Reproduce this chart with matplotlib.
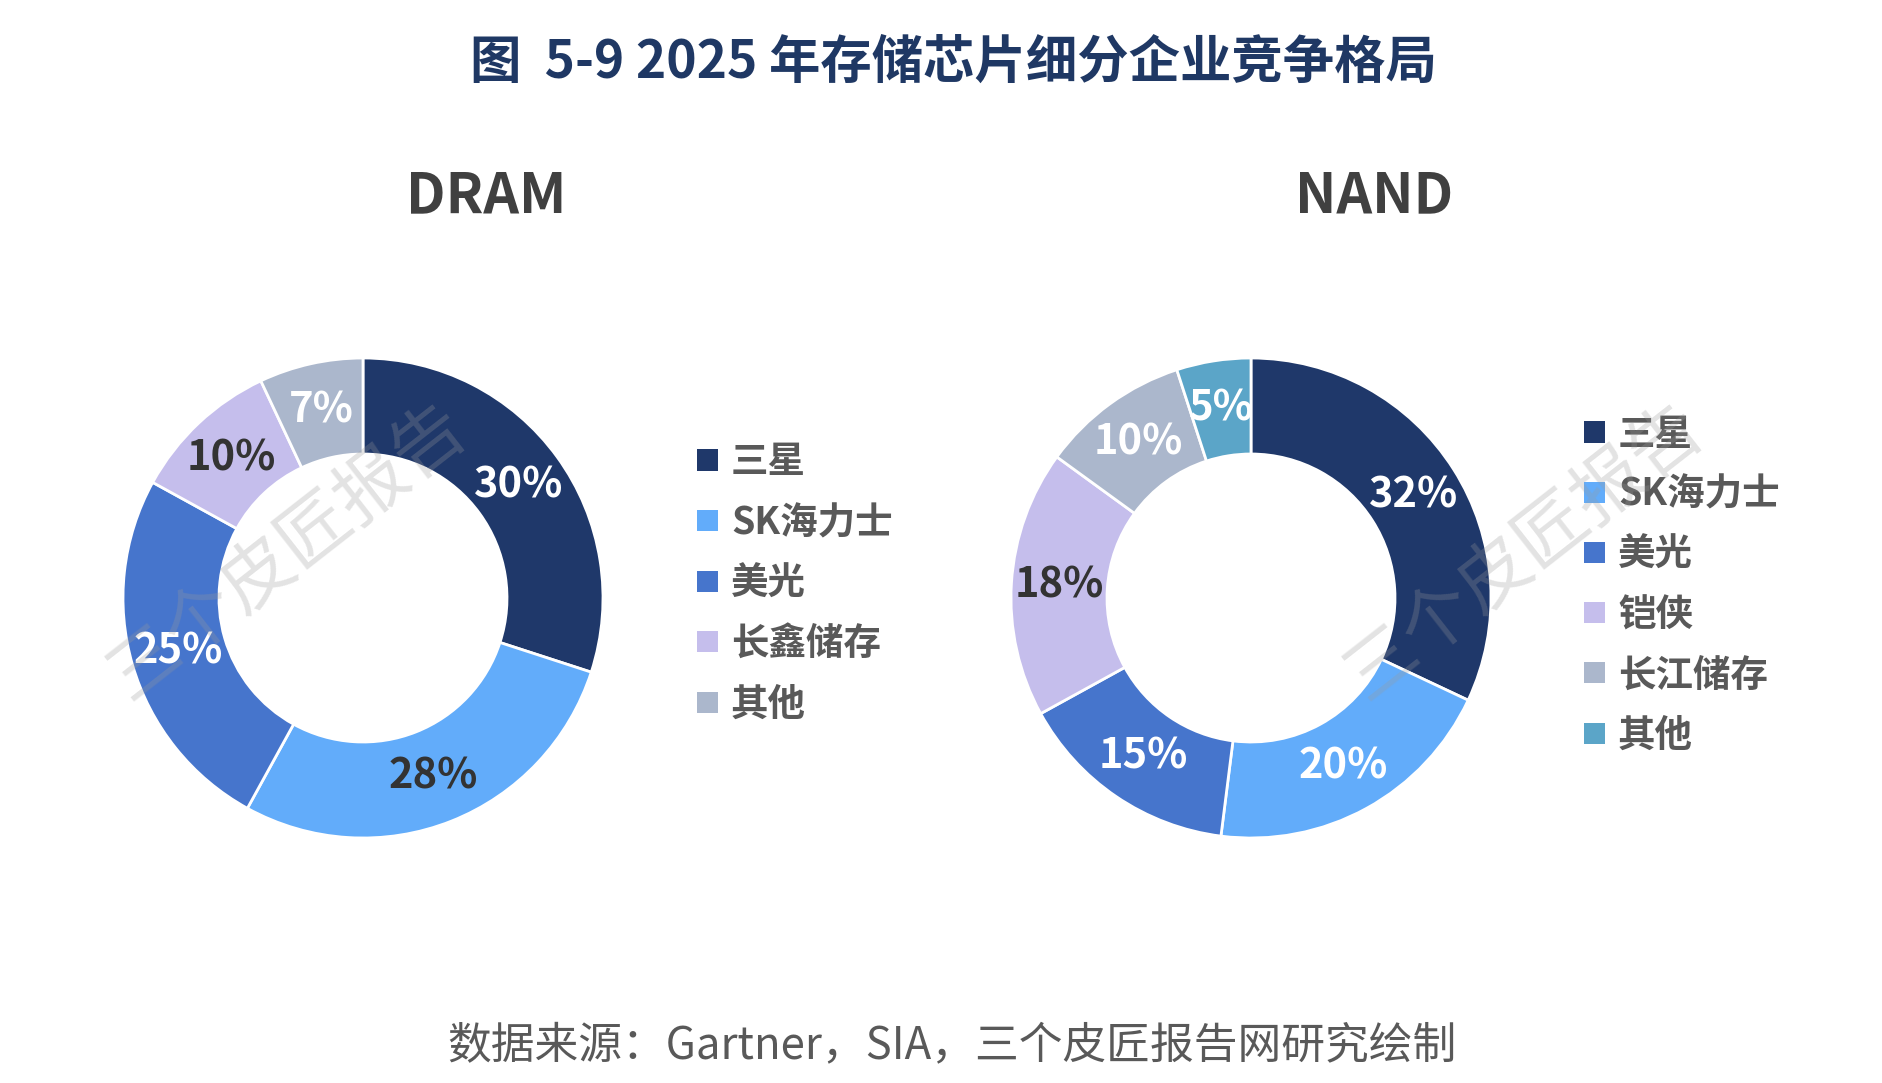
import matplotlib
matplotlib.use('Agg')
import matplotlib.pyplot as plt
from matplotlib.patches import Rectangle

plt.rcParams['font.family'] = ['Noto Sans CJK SC', 'DejaVu Sans']

# ---- data ----
dram_labels = ['三星', 'SK海力士', '美光', '长鑫储存', '其他']
dram_values = [30, 28, 25, 10, 7]
nand_labels = ['三星', 'SK海力士', '美光', '铠侠', '长江储存', '其他']
nand_values = [32, 20, 15, 18, 10, 5]

title = '图  5-9 2025 年存储芯片细分企业竞争格局'
source = '数据来源：Gartner，SIA，三个皮匠报告网研究绘制'
watermark = '三个皮匠报告'

# ---- styles ----
dram_colors = ['#1F386A', '#62ACFA', '#4675CC', '#C5BEEC', '#ABB7CC']
nand_colors = ['#1F386A', '#62ACFA', '#4675CC', '#C5BEEC', '#ABB7CC', '#5BA5C8']
dram_txt = ['white', '#333333', 'white', '#333333', 'white']
nand_txt = ['white', 'white', 'white', '#333333', 'white', 'white']

W, H = 1883, 1083
fig = plt.figure(figsize=(W / 100, H / 100), dpi=100)
fig.patch.set_facecolor('white')


def donut(cx, cy, r, values, colors, txtcolors):
    ax = fig.add_axes([(cx - r) / W, (H - cy - r) / H, 2 * r / W, 2 * r / H])
    wedges, _, autotexts = ax.pie(
        values, colors=colors, startangle=90, counterclock=False, radius=1,
        wedgeprops=dict(width=0.4, edgecolor='white', linewidth=2),
        autopct=lambda p: f'{p:.0f}%', pctdistance=0.8,
        textprops=dict(fontsize=30, fontweight='bold'))
    for t, c in zip(autotexts, txtcolors):
        t.set_color(c)
    ax.set_xlim(-1.0, 1.0)
    ax.set_ylim(-1.0, 1.0)
    ax.set_axis_off()
    return ax


def legend(x_marker, y0, dy, labels, colors):
    for i, (lab, col) in enumerate(zip(labels, colors)):
        y = y0 + i * dy
        fig.add_artist(Rectangle((x_marker / W, 1 - (y + 10.5) / H), 21 / W, 21 / H,
                                 transform=fig.transFigure, facecolor=col, edgecolor='none'))
        fig.text((x_marker + 34) / W, 1 - (y + 2) / H, lab, ha='left', va='center',
                 fontsize=27, fontweight='bold', color='#595959')


donut(363, 598, 240, dram_values, dram_colors, dram_txt)
donut(1251, 598, 240, nand_values, nand_colors, nand_txt)

legend(697, 460, 60.5, dram_labels, dram_colors)
legend(1584, 432, 60.2, nand_labels, nand_colors)

fig.text(953 / W, 1 - 62 / H, title, ha='center', va='center', fontsize=37,
         fontweight='bold', color='#1F3864')
fig.text(486 / W, 1 - 196 / H, 'DRAM', ha='center', va='center', fontsize=40,
         fontweight='bold', color='#404040')
fig.text(1374 / W, 1 - 196 / H, 'NAND', ha='center', va='center', fontsize=40,
         fontweight='bold', color='#404040')
fig.text(952 / W, 1 - 1045 / H, source, ha='center', va='center', fontsize=31.5,
         color='#595959')

for wx, wy in [(288, 552), (1525, 552)]:
    fig.text(wx / W, 1 - wy / H, watermark, ha='center', va='center', rotation=38,
             fontsize=52, color='#9a9a9a', alpha=0.28, zorder=20)

fig.savefig('out.png', dpi=100, facecolor='white')
